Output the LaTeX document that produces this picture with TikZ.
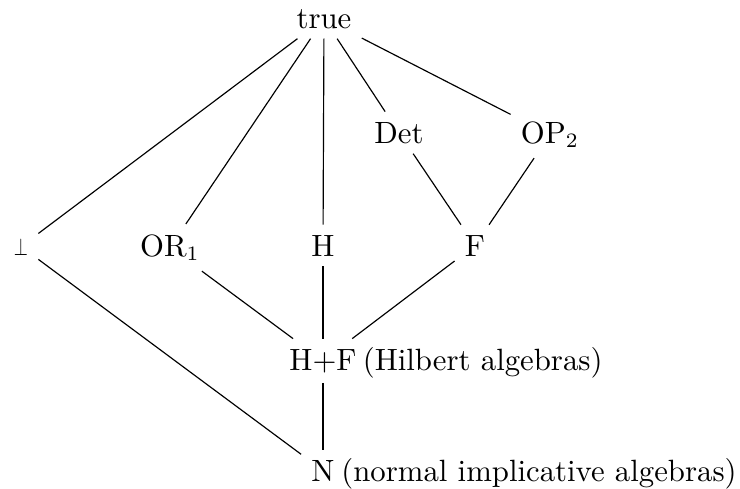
\documentclass[tikz,border=0pt]{standalone}
\usepackage{amsmath,amssymb}
\usepackage{graphicx}
\usepackage{tikz}
\usetikzlibrary{positioning}

\begin{document}
\begin{tikzpicture}[x=0.012cm, y=-0.012cm,
    lat/.style={font=\fontsize{10.5}{12.6}\selectfont, anchor=base},
    edge/.style={thin, black},
    note/.style={font=\fontsize{10.5}{12.6}\selectfont, anchor=base west, inner sep=0pt}]

    \useasboundingbox (0,0) rectangle (740,489);

    \node[lat] (top) at (324,28)  {true};
    \node[lat] (bot) at (21,255)  {\resizebox{4.8pt}{5.8pt}{$\perp$}};
    \node[lat] (or1) at (170,256) {OR$_1$};
    \node[lat] (h)   at (323,256) {H};
    \node[lat] (f)   at (475,256) {F};
    \node[lat] (det) at (399,143) {Det};
    \node[lat] (op2) at (550,143) {OP$_2$};
    \node[lat] (hf)  at (323,370) {H+F};
    \node[lat] (n)   at (323,481) {N};

    \node[note, xshift=-1.6pt] (hfl) at (hf.base east) {(Hilbert algebras)};
    \node[note, xshift=-1.4pt] (nl) at (n.base east) {(normal implicative algebras)};

    \draw[edge] (top)--(bot); \draw[edge] (top)--(or1);
    \draw[edge] (top)--(h);   \draw[edge] (top)--(det);
    \draw[edge] (top)--(op2);
    \draw[edge] (det)--(f);   \draw[edge] (op2)--(f);
    \draw[edge] (or1)--(hf);  \draw[edge] (h)--(hf);
    \draw[edge] (f)--(hf);
    \draw[edge] (hf)--(n);    \draw[edge] (bot)--(n);
  \end{tikzpicture}
\end{document}
